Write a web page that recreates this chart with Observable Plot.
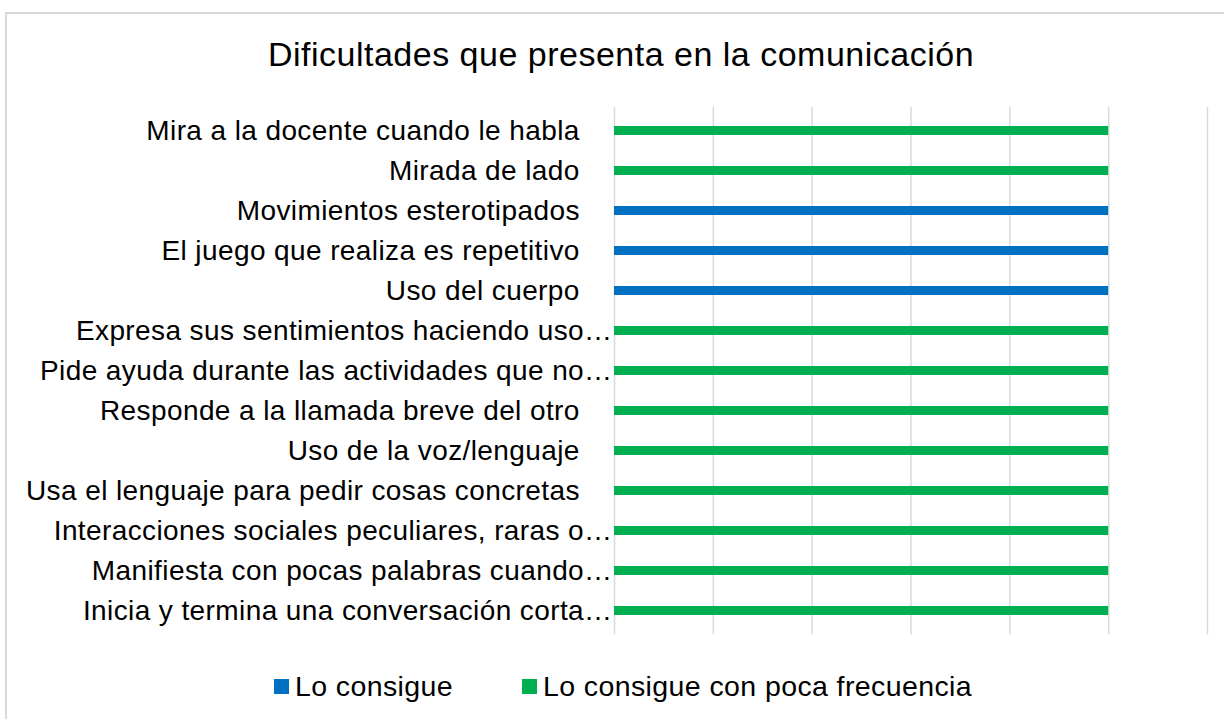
<!DOCTYPE html>
<html>
<head>
<meta charset="utf-8">
<script src="https://cdn.jsdelivr.net/npm/d3@7"></script>
<script src="https://cdn.jsdelivr.net/npm/@observablehq/plot@0.6"></script>
<style>
  html, body { margin: 0; padding: 0; background: #fff; }
  body { width: 1224px; height: 719px; position: relative; overflow: hidden; font-family: "Liberation Sans", Arial, sans-serif; }
  #frame { position: absolute; left: 5px; top: 12px; width: 1240px; height: 740px; border: 2px solid #d9d9d9; box-sizing: border-box; }
  #title { position: absolute; left: 0; width: 1242px; top: 37px; text-align: center; font-size: 34px; letter-spacing: 0.5px; line-height: 1; color: #000; white-space: nowrap; }
  #chart { position: absolute; left: 0; top: 0; }
  #chart svg text { letter-spacing: 0.4px; }
  .leg { position: absolute; top: 671px; height: 30px; display: flex; align-items: center; font-size: 28.5px; letter-spacing: 0.4px; line-height: 1; color: #000; white-space: nowrap; }
  .sw { width: 15px; height: 15px; margin-right: 6px; flex: none; }
</style>
</head>
<body>
<div id="frame"></div>
<div id="title">Dificultades que presenta en la comunicación</div>
<div id="chart"></div>
<div id="legend"></div>
<script>
// Categories, top to bottom
const categories = [
  "Mira a la docente cuando le habla",
  "Mirada de lado",
  "Movimientos esterotipados",
  "El juego que realiza es repetitivo",
  "Uso del cuerpo",
  "Expresa sus sentimientos haciendo uso…",
  "Pide ayuda durante las actividades que no…",
  "Responde a la llamada breve del otro",
  "Uso de la voz/lenguaje",
  "Usa el lenguaje para pedir cosas concretas",
  "Interacciones sociales peculiares, raras o…",
  "Manifiesta con pocas palabras cuando…",
  "Inicia y termina una conversación corta…"
];
// Series each category belongs to
const seriesOf = [
  "Lo consigue con poca frecuencia",
  "Lo consigue con poca frecuencia",
  "Lo consigue",
  "Lo consigue",
  "Lo consigue",
  "Lo consigue con poca frecuencia",
  "Lo consigue con poca frecuencia",
  "Lo consigue con poca frecuencia",
  "Lo consigue con poca frecuencia",
  "Lo consigue con poca frecuencia",
  "Lo consigue con poca frecuencia",
  "Lo consigue con poca frecuencia",
  "Lo consigue con poca frecuencia"
];
// Values (share of responses)
const values = [1, 1, 1, 1, 1, 1, 1, 1, 1, 1, 1, 1, 1];
// Grid tick values
const xTicks = [0, 0.2, 0.4, 0.6, 0.8, 1.0, 1.2];
const seriesNames = ["Lo consigue", "Lo consigue con poca frecuencia"];
const seriesColors = ["#0070C0", "#00B050"];

const data = categories.map((c, i) => ({category: c, series: seriesOf[i], value: values[i]}));

const plot = Plot.plot({
  width: 1224,
  height: 650,
  marginTop: 107,
  marginBottom: 15.7,
  marginLeft: 614,
  marginRight: 17,
  style: {fontFamily: '"Liberation Sans", Arial, sans-serif', background: "transparent", color: "#000"},
  x: {domain: [0, 1.2], axis: null},
  y: {domain: categories, axis: null, label: null, paddingInner: 0.778, paddingOuter: 0.389},
  color: {domain: seriesNames, range: seriesColors},
  marks: [
    Plot.gridX(xTicks, {stroke: "#d9d9d9", strokeOpacity: 1, strokeWidth: 1.5}),
    Plot.barX(data, {y: "category", x: "value", fill: "series"}),
    Plot.axisY({
      label: null,
      tickSize: 0,
      tickPadding: 2,
      fontSize: 28,
      tickFormat: d => d.endsWith("…") ? d : d + "\u00a0\u00a0\u00a0\u00a0"
    })
  ]
});
document.getElementById("chart").appendChild(plot);

// Legend
const legend = document.getElementById("legend");
const legLeft = [274, 522];
seriesNames.forEach((name, i) => {
  const item = document.createElement("div");
  item.className = "leg";
  item.style.left = legLeft[i] + "px";
  const sw = document.createElement("span");
  sw.className = "sw";
  sw.style.background = seriesColors[i];
  const tx = document.createElement("span");
  tx.textContent = name;
  item.appendChild(sw);
  item.appendChild(tx);
  legend.appendChild(item);
});
</script>
</body>
</html>
